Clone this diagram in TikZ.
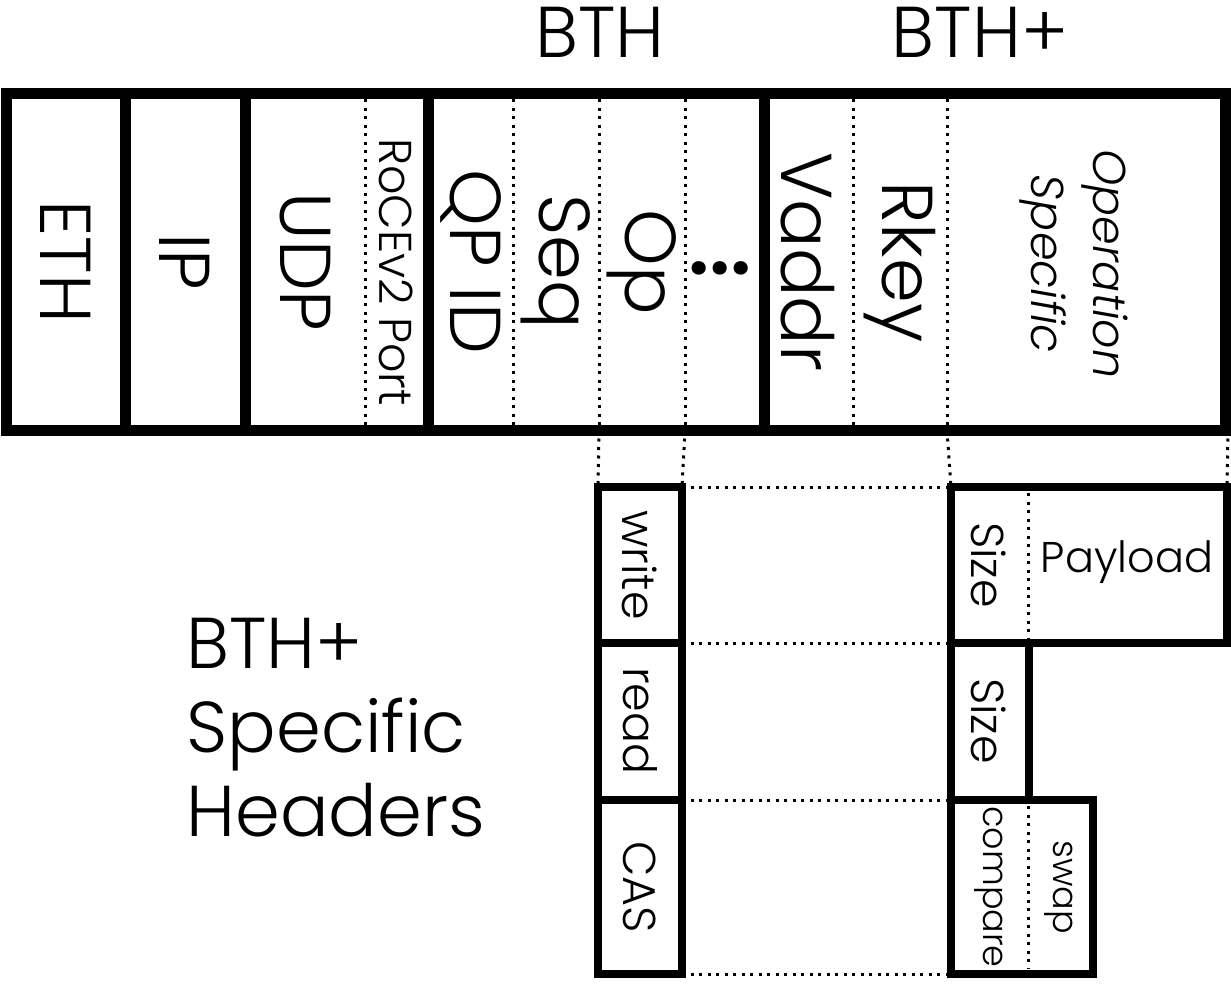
\documentclass[tikz,border=0pt]{standalone}
\usepackage{fontspec}
\setmainfont{Poppins}[UprightFont=* Light, ItalicFont=* Light Italic]
\usepackage{tikz}

\tikzset{
	thickline/.style={line width=11pt},
	boxline/.style={line width=8pt},
	dotline/.style={line width=3pt, dash pattern=on 3pt off 5.5pt},
	bigtext/.style={font=\fontsize{72}{84}\selectfont},
	midtext/.style={font=\fontsize{46}{62}\selectfont},
	smalltext/.style={font=\fontsize{35}{40}\selectfont},
	down/.style={rotate=-90, inner sep=0pt},
}

\begin{document}
\begin{tikzpicture}[x=1pt,y=-1pt]
				\useasboundingbox (0,0) rectangle (1231,985);
				
				% header row
				\draw[thickline] (6,93) rectangle (1225,430);
				\foreach \x in {125,245,428,764}{
					\draw[thickline] (\x,93) -- (\x,430);
				}
				\foreach \x/\y in
				{a/365, b/513, c/599, d/685, e/853, f/947}{
					\coordinate (t\x) at (\y,99);
					\coordinate (s\x) at (\y,430);
					\draw[dotline] (t\x) -- (s\x);
				}
				\coordinate (sg) at (1228,430);
				
				% header fields
				\node[bigtext,down] (eth) at (66,262) {ETH};
				\node[bigtext,down] (ip) at (185,262) {IP};
				\node[bigtext,down] (udp) at (305,262) {UDP};
				\node[midtext,down] (port) at (396,272) {RoCEv2 Port};
				\node[bigtext,down] (qpid) at (471,262) {QP ID};
				\node[bigtext,down] (seq) at (556,262) {Seq};
				\node[bigtext,down] (op) at (642,262) {Op};
				\node[font=\fontsize{82}{84}\bfseries] (more) at (720,268) {{.}{.}{.}};
				\node[bigtext,down] (vaddr) at (808,262) {Vaddr};
				\node[bigtext,down] (rkey) at (900,262) {Rkey};
				\node[midtext,down,align=center,font=\fontsize{46}{62}\selectfont\itshape] (opspec) at (1074,264) {Operation\\Specific};
				
				% labels above
				\node[bigtext] (bth) at (600,32) {BTH};
				\node[bigtext] (bthplus) at (980,32) {BTH+};
				
				% specific headers (left)
				\draw[boxline] (598,487) rectangle (682,974);
				\draw[boxline] (598,643) -- (682,643);
				\draw[boxline] (598,800) -- (682,800);
				\node[midtext,down] (write) at (640,565) {write};
				\node[midtext,down] (read) at (640,721) {read};
				\node[midtext,down] (cas) at (640,887) {CAS};
				
				% specific headers (right)
				\draw[boxline] (951,487) rectangle (1227,643);
				\draw[boxline] (951,643) rectangle (1029,800);
				\draw[boxline] (951,800) rectangle (1093,974);
				\draw[dotline] (1028,493) -- (1028,638);
				\draw[dotline] (1028,806) -- (1028,968);
				\node[midtext,down] (size) at (989,565) {Size};
				\node[font=\fontsize{43}{50}\selectfont] (payload) at (1127,562) {Payload};
				\node[midtext,down] (size2) at (989,721) {Size};
				\node[smalltext,down] (compare) at (989,887) {compare};
				\node[smalltext,down] (swap) at (1059,887) {swap};
				
				% dotted guides
				\foreach \x/\y in
				{sc/598,sd/682,sf/951,sg/1227}{
					\coordinate (b\x) at (\y,487);
					\draw[dotline] (\x) -- (b\x);
				}
				\foreach \x/\y in
				{a/487, b/643, c/800, d/974}{
					\coordinate (l\x) at (682,\y);
					\coordinate (r\x) at (951,\y);
					\draw[dotline] (l\x) -- (r\x);
				}
				
				\node[bigtext,anchor=west,align=left] (caption) at (183,728) {BTH+\\Specific\\Headers};
			\end{tikzpicture}
\end{document}
